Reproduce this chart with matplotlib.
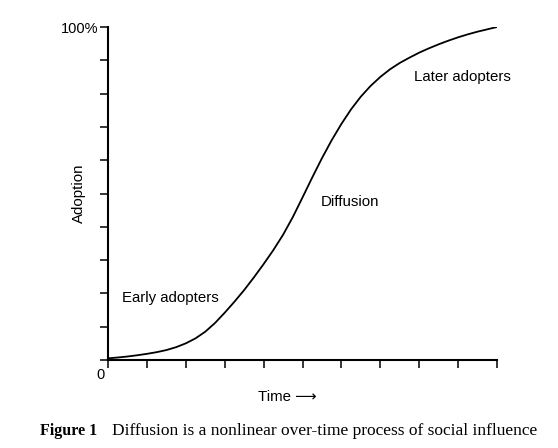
import numpy as np
import matplotlib.pyplot as plt

# adoption curve (time in tick units, adoption in %)
time = [0, 0.25, 0.5, 0.75, 1, 1.25, 1.5, 1.75, 2, 2.25, 2.5, 2.75, 3, 3.25, 3.5,
        3.75, 4, 4.25, 4.5, 4.75, 5, 5.25, 5.5, 5.75, 6, 6.25, 6.5, 6.75, 7, 7.25,
        7.5, 7.75, 8, 8.25, 8.5, 8.75, 9, 9.25, 9.5, 9.75, 10]
adoption = [0.5, 0.75, 1.05, 1.42, 1.85, 2.35, 2.98, 3.85, 5.0, 6.5, 8.5, 11.1, 14.2, 17.5, 21.0,
            24.8, 28.8, 33.0, 37.6, 42.9, 48.8, 54.8, 60.6, 66.0, 70.9, 75.3, 79.1, 82.3, 85.0, 87.3,
            89.2, 90.8, 92.3, 93.6, 94.8, 95.9, 96.9, 97.8, 98.6, 99.3, 100]
xticks = list(range(0, 11))
yticks = list(range(0, 101, 10))
ytick_labels = [''] * 10 + ['100%']

sans = ['Liberation Sans', 'DejaVu Sans']
serif = ['Liberation Serif', 'DejaVu Serif']
plt.rcParams['font.family'] = sans

fig = plt.figure(figsize=(5.58, 4.48), dpi=100)
ax = fig.add_axes([108/558, 1-360/448, (497-108)/558, (360-27)/448])
ax.plot(time, adoption, color='black', lw=1.3, solid_joinstyle='round')
ax.set_xlim(0, 10)
ax.set_ylim(0, 100)
ax.set_xticks(xticks)
ax.set_xticklabels([])
ax.set_yticks(yticks)
ax.set_yticklabels(ytick_labels, fontsize=10.5)
ax.tick_params(direction='out', length=6, width=1.1, color='black', pad=1)
for s in ['top', 'right']:
    ax.spines[s].set_visible(False)
for s in ['left', 'bottom']:
    ax.spines[s].set_linewidth(1.5)

ax.text(-0.2, -4.5, '0', ha='center', va='center', fontsize=10.5)
ax.text(1.61, 18.5, 'Early adopters', ha='center', va='center', fontsize=10.8)
ax.text(6.23, 47.5, 'Diffusion', ha='center', va='center', fontsize=10.8)
ax.text(9.1, 85.1, 'Later adopters', ha='center', va='center', fontsize=10.8)

fig.text(79/558, 1-193/448, 'Adoption', rotation=90, ha='center', va='center', fontsize=10.8)
fig.text(258/558, 1-397/448, 'Time \u27f6', ha='left', va='center', fontsize=10.8, family=sans)

fig.text(40/558, 1-431/448, 'Figure 1', ha='left', va='center', fontsize=11.5,
         family=serif, weight='bold')
fig.text(537/558, 1-431/448, 'Diffusion is a nonlinear over-time process of social influence',
         ha='right', va='center', fontsize=12.5, family=serif)

fig.savefig('out.png', dpi=100)
